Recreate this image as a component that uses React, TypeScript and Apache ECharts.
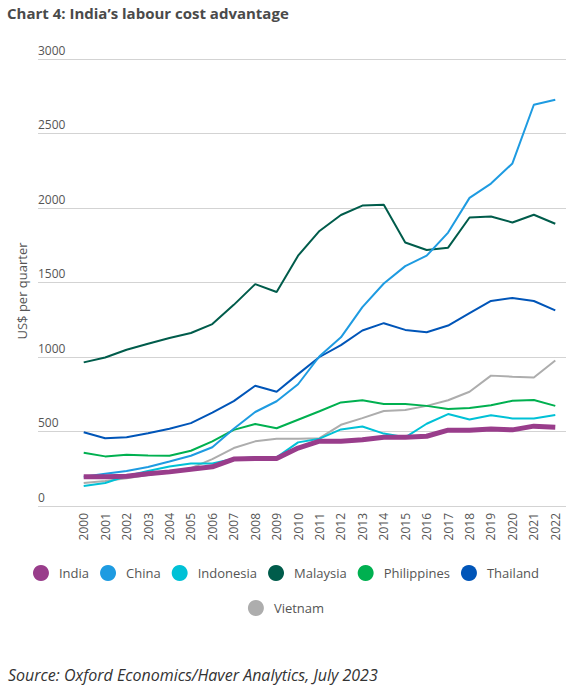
import React, { useEffect, useRef } from "react";
import * as echarts from "echarts";

const years = ["2000","2001","2002","2003","2004","2005","2006","2007","2008","2009","2010","2011","2012","2013","2014","2015","2016","2017","2018","2019","2020","2021","2022"];

const india = [197, 197, 200, 217, 229, 247, 263, 315, 319, 319, 389, 435, 434, 444, 461, 461, 468, 509, 509, 516, 511, 536, 529];
const china = [197, 217, 235, 262, 299, 337, 394, 518, 631, 703, 817, 1005, 1132, 1335, 1493, 1610, 1680, 1835, 2068, 2164, 2299, 2693, 2727];
const indonesia = [134, 154, 201, 235, 265, 285, 285, 317, 328, 326, 427, 452, 514, 534, 486, 461, 552, 617, 581, 609, 588, 588, 611];
const malaysia = [964, 997, 1049, 1089, 1127, 1161, 1221, 1350, 1489, 1436, 1680, 1846, 1953, 2016, 2022, 1768, 1718, 1734, 1936, 1943, 1903, 1955, 1894];
const philippines = [358, 333, 344, 339, 337, 371, 434, 511, 550, 522, 579, 636, 695, 710, 685, 685, 672, 651, 658, 676, 706, 712, 672];
const thailand = [495, 455, 461, 488, 518, 556, 627, 704, 807, 767, 885, 1000, 1080, 1178, 1227, 1182, 1166, 1211, 1295, 1376, 1396, 1376, 1313];
const vietnam = [154, 168, 186, 208, 229, 254, 315, 389, 434, 452, 452, 455, 545, 590, 638, 645, 672, 710, 767, 875, 868, 862, 977];

const seriesNames = ["India", "China", "Indonesia", "Malaysia", "Philippines", "Thailand", "Vietnam"];
const colors: Record<string, string> = {
  India: "#993d8b",
  China: "#1e9be1",
  Indonesia: "#00c1d6",
  Malaysia: "#005c4b",
  Philippines: "#00b050",
  Thailand: "#0055b8",
  Vietnam: "#adadad",
};

const title = "Chart 4: India\u2019s labour cost advantage";
const source = "Source: Oxford Economics/Haver Analytics, July 2023";
const yName = "US$ per quarter";

const FONT = "'Open Sans', 'Noto Sans', sans-serif";

export default function App() {
  const ref = useRef<HTMLDivElement>(null);
  useEffect(() => {
    if (!ref.current) return;
    const chart = echarts.init(ref.current, null, { renderer: "svg" });
    const dataMap: Record<string, number[]> = {
      India: india, China: china, Indonesia: indonesia, Malaysia: malaysia,
      Philippines: philippines, Thailand: thailand, Vietnam: vietnam,
    };
    const drawOrder = ["Vietnam", "Thailand", "Philippines", "Malaysia", "Indonesia", "China", "India"];
    const legendStyle = {
      icon: "circle",
      itemWidth: 26,
      itemHeight: 16,
      itemGap: 11,
      textStyle: { fontSize: 13, color: "#555", fontFamily: FONT },
      left: "center",
      selectedMode: false,
    };
    chart.setOption({
      animation: false,
      textStyle: { fontFamily: FONT },
      title: {
        text: title,
        left: 2,
        top: 0,
        textStyle: { fontSize: 15, fontWeight: "bold", color: "#4a4a4a", fontFamily: FONT },
      },
      legend: [
        { ...legendStyle, top: 560, data: seriesNames.slice(0, 6) },
        { ...legendStyle, top: 595, data: seriesNames.slice(6) },
      ],
      grid: [
        { left: 73, right: 6, top: 59, bottom: 185 },
        { left: 38, right: 6, top: 59, bottom: 185 },
      ],
      xAxis: [
        {
          type: "category",
          gridIndex: 0,
          data: years,
          boundaryGap: true,
          axisLine: { show: false },
          axisTick: { show: false },
          axisLabel: { rotate: 90, fontSize: 12, color: "#555", margin: 7, interval: 0 },
        },
        { type: "category", gridIndex: 1, data: years, show: false },
      ],
      yAxis: [
        {
          type: "value",
          gridIndex: 0,
          min: 0,
          max: 3000,
          interval: 500,
          axisLabel: { show: false },
          splitLine: { show: false },
          axisLine: { show: false },
          axisTick: { show: false },
        },
        {
          type: "value",
          gridIndex: 1,
          min: 0,
          max: 3000,
          interval: 500,
          axisLine: { show: false },
          axisTick: { show: false },
          axisLabel: {
            inside: true,
            margin: 0,
            align: "left",
            verticalAlign: "bottom",
            padding: [0, 0, 3, 0],
            fontSize: 12,
            color: "#555",
            formatter: (v: number) => String(v),
          },
          splitLine: { lineStyle: { color: "#d3d3d3", width: 1 } },
        },
      ],
      series: drawOrder.map((n) => ({
        name: n,
        type: "line",
        xAxisIndex: 0,
        yAxisIndex: 0,
        data: dataMap[n],
        showSymbol: false,
        symbol: "circle",
        color: colors[n],
        lineStyle: { color: colors[n], width: n === "India" ? 5 : 2 },
      })),
      graphic: [
        {
          type: "text",
          x: 22,
          y: 291,
          rotation: Math.PI / 2,
          style: {
            text: yName,
            fontSize: 13,
            fill: "#555",
            fontFamily: FONT,
            align: "center",
            verticalAlign: "middle",
          },
        },
        {
          type: "text",
          left: 8,
          top: 667,
          style: {
            text: source,
            fontSize: 16,
            fontStyle: "italic",
            fill: "#333",
            fontFamily: FONT,
          },
        },
      ],
    });
    return () => chart.dispose();
  }, []);
  return (
    <div
      ref={ref}
      style={{ position: "fixed", left: 0, top: 0, width: 572, height: 691, background: "#fff" }}
    />
  );
}
